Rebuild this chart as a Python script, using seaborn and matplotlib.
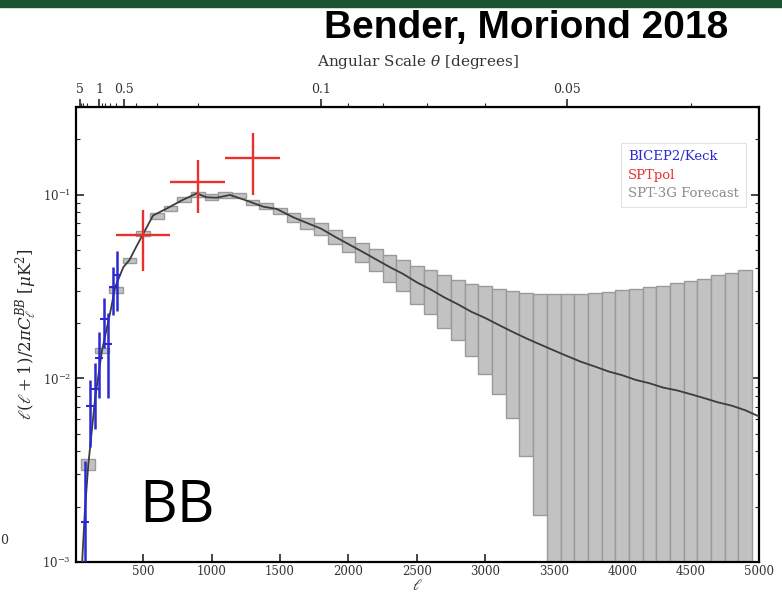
import numpy as np
import pandas as pd
import matplotlib
matplotlib.use("Agg")
import matplotlib.pyplot as plt
import seaborn as sns
from matplotlib.lines import Line2D
from matplotlib.patches import Rectangle
from matplotlib.ticker import FixedLocator, FixedFormatter, NullFormatter

# ---------------- data ----------------
theory_ell = [40, 55, 75, 100, 150, 200, 259, 296, 356, 400, 450, 500, 573, 673, 782, 892,
              965, 1038, 1135, 1257, 1378, 1476, 1597, 1700, 1800, 1900, 2000, 2100, 2200,
              2300, 2400, 2500, 2600, 2700, 2800, 2900, 3000, 3100, 3200, 3300, 3400, 3500,
              3600, 3700, 3800, 3900, 4000, 4100, 4200, 4300, 4400, 4500, 4600, 4700, 4800,
              4900, 5000]
theory_dl = [0.00055, 0.0010, 0.0019, 0.0034, 0.0078, 0.0142, 0.0226, 0.0314, 0.0403, 0.0440,
             0.0520, 0.0610, 0.0770, 0.0840, 0.0930, 0.1016, 0.0967, 0.0962, 0.0996, 0.0928,
             0.0860, 0.0836, 0.0753, 0.0700, 0.0653, 0.0591, 0.0538, 0.0490, 0.0445, 0.0404,
             0.0370, 0.0333, 0.0305, 0.0276, 0.0253, 0.0230, 0.0213, 0.0195, 0.0179, 0.0165,
             0.0153, 0.0142, 0.0132, 0.0123, 0.0116, 0.0109, 0.0104, 0.0098, 0.0094, 0.0089,
             0.0086, 0.0082, 0.0078, 0.0074, 0.0071, 0.0067, 0.0062]

# SPT-3G forecast bins (delta ell = 100)
fc_ell = list(range(100, 5000, 100))
fc_dl = [0.0034, 0.0142, 0.0303, 0.0438, 0.0614, 0.0764, 0.0840, 0.0940, 0.1000, 0.0969,
         0.0994, 0.0990, 0.0905, 0.0866, 0.0818, 0.0754, 0.0700, 0.0653, 0.0591, 0.0538,
         0.0490, 0.0445, 0.0404, 0.0370, 0.0333, 0.0305, 0.0276, 0.0253, 0.0230, 0.0213,
         0.0195, 0.0179, 0.0165, 0.0153, 0.0142, 0.0132, 0.0123, 0.0116, 0.0109, 0.0104,
         0.0098, 0.0094, 0.0089, 0.0086, 0.0082, 0.0078, 0.0074, 0.0071, 0.0067]
fc_err = [0.00023, 0.0005, 0.0011, 0.0015, 0.0021, 0.0026, 0.0029, 0.0033, 0.0035, 0.0034,
          0.0035, 0.0035, 0.0032, 0.0031, 0.0030, 0.0042, 0.0048, 0.0049, 0.0052, 0.0053,
          0.0058, 0.0063, 0.0068, 0.0073, 0.0078, 0.0082, 0.0087, 0.0092, 0.0098, 0.0107,
          0.0113, 0.0118, 0.0127, 0.0135, 0.0144, 0.0154, 0.0163, 0.0174, 0.0186, 0.0197,
          0.0209, 0.0220, 0.0231, 0.0245, 0.0256, 0.0270, 0.0289, 0.0304, 0.0322]

# BICEP2/Keck bandpowers
bk_ell = [77, 112, 146, 180, 212, 245, 279, 311]
bk_dl = [0.00165, 0.00705, 0.00871, 0.01285, 0.02094, 0.01531, 0.03126, 0.0363]
bk_err = [0.0019, 0.0028, 0.0034, 0.0050, 0.0063, 0.0075, 0.0092, 0.0130]

# SPTpol bandpowers
sp_ell = [500, 900, 1300]
sp_dl = [0.0604, 0.1166, 0.1583]
sp_err = [0.022, 0.037, 0.059]
sp_xerr = [200, 200, 200]

top_major = [5, 1, 0.5, 0.1, 0.05]
top_major_labels = ["5", "1", "0.5", "0.1", "0.05"]
top_minor = [4, 3, 2, 0.9, 0.8, 0.7, 0.6, 0.4, 0.3, 0.2, 0.09, 0.08, 0.07, 0.06, 0.04]
x_ticks = [500, 1000, 1500, 2000, 2500, 3000, 3500, 4000, 4500, 5000]

# ---------------- style ----------------
sns.set_style("ticks")
plt.rcParams["font.family"] = ["DejaVu Serif"]
plt.rcParams["mathtext.fontset"] = "dejavuserif"

fig = plt.figure(figsize=(7.82, 5.94), dpi=100)
ax = fig.add_axes([76 / 782, 1 - 562 / 594, (759 - 76) / 782, (562 - 107) / 594])
ax.set_yscale("log")

# forecast boxes
fc_lo = np.maximum(np.array(fc_dl) - np.array(fc_err), 1e-5)
fc_hi = np.array(fc_dl) + np.array(fc_err)
ax.bar(fc_ell, fc_hi - fc_lo, bottom=fc_lo, width=100, color="#c2c2c2",
       edgecolor="#9a9a9a", linewidth=1.0, zorder=1)

# theory
df = pd.DataFrame({"ell": theory_ell, "dl": theory_dl})
sns.lineplot(data=df, x="ell", y="dl", ax=ax, color="#3c3c3c", lw=1.3, zorder=3)

# BICEP2/Keck
ax.errorbar(bk_ell, bk_dl, yerr=bk_err, fmt="_", color="#2a2ad0", ms=6, mew=1.5,
            elinewidth=1.8, capsize=0, zorder=4)
# SPTpol
ax.errorbar(sp_ell, sp_dl, yerr=sp_err, xerr=sp_xerr, fmt="none", ecolor="#e8312a",
            elinewidth=1.7, capsize=0, zorder=5)

ax.set_xlim(10, 5000)
ax.set_ylim(1e-3, 0.3)
ax.set_xticks(x_ticks)
ax.set_xlabel(r"$\ell$", fontsize=11, va="baseline")
ax.xaxis.set_label_coords(0.5, -0.0615)
ax.set_ylabel(r"$\ell(\ell+1)/2\pi C_\ell^{BB}$ [$\mu$K$^2$]", fontsize=12)
ax.yaxis.set_label_coords(-0.052, 0.5)
ax.tick_params(which="both", direction="in", right=True, top=False, labelsize=8.5,
               labelcolor="#333333")
ax.tick_params(axis="x", which="both", pad=2)
ax.tick_params(which="major", length=6, width=1.2)
ax.tick_params(which="minor", length=3, width=0.8)
for s in ax.spines.values():
    s.set_linewidth(1.6)
    s.set_color("black")

# top angular-scale axis
def l2t(l):
    l = np.asarray(l, dtype=float)
    with np.errstate(divide="ignore"):
        return np.where(l > 0, 180.0 / np.where(l > 0, l, 1), 1e6)

sec = ax.secondary_xaxis("top", functions=(l2t, l2t))
sec.xaxis.set_major_locator(FixedLocator(top_major))
sec.xaxis.set_major_formatter(FixedFormatter(top_major_labels))
sec.xaxis.set_minor_locator(FixedLocator(top_minor))
sec.xaxis.set_minor_formatter(NullFormatter())
sec.tick_params(which="both", direction="out", labelsize=9, labelcolor="#333333", pad=2)
sec.tick_params(which="major", length=6, width=1.2)
sec.tick_params(which="minor", length=3, width=0.8)
sec.set_xlabel(r"Angular Scale $\theta$ [degrees]", fontsize=11, labelpad=12,
               color="#333333")

# legend
handles = [Line2D([], [], lw=0) for _ in range(3)]
leg = ax.legend(handles, ["BICEP2/Keck", "SPTpol", "SPT-3G Forecast"],
                loc="upper right", bbox_to_anchor=(0.991, 0.935), handlelength=0,
                handletextpad=0, labelcolor=["#2a2ad0", "#e8312a", "#8c8c8c"],
                prop={"family": "DejaVu Serif", "size": 9.5}, frameon=True,
                fancybox=False, borderpad=0.55, labelspacing=0.4)
leg.get_frame().set_edgecolor("#dddddd")
leg.get_frame().set_linewidth(0.8)

# big BB label
ax.text(177 / 782, 1 - 507 / 594, "BB", transform=fig.transFigure, ha="center",
        va="center", fontsize=42, family="Open Sans", color="black")

# header
fig.patches.append(Rectangle((0, 1 - 7 / 594), 1, 7 / 594, transform=fig.transFigure,
                             color="#1a5430", zorder=10))
fig.text(728 / 782, 1 - 28 / 594, "Bender, Moriond 2018", ha="right", va="center",
         fontsize=28, fontweight="bold", family="Liberation Sans", color="black")
fig.text(4 / 782, 1 - 540 / 594, "0", ha="center", va="center", fontsize=9, color="#333333")

fig.savefig("out.png", dpi=100)
